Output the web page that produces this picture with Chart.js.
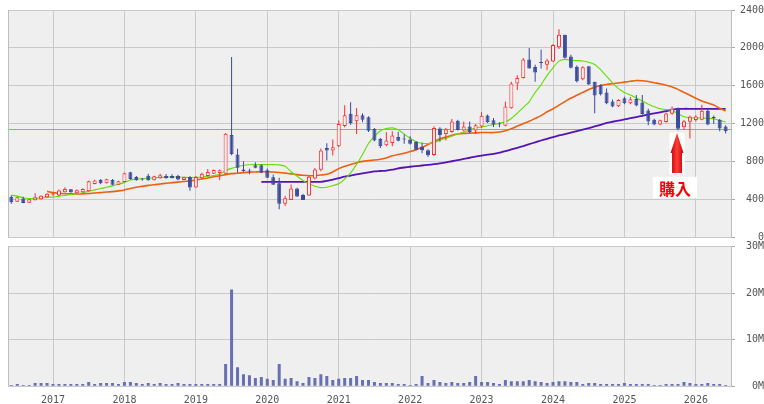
<!DOCTYPE html>
<html><head><meta charset="utf-8">
<script src="https://cdn.jsdelivr.net/npm/chart.js@4.4.1/dist/chart.umd.min.js"></script>
<style>
html,body{margin:0;padding:0;background:#fff;overflow:hidden;width:764px;height:404px;}
#c1{position:absolute;left:0;top:0;}
#c2{position:absolute;left:0;top:234px;}
</style></head><body>
<canvas id="c1" width="764" height="250"></canvas>
<canvas id="c2" width="764" height="172"></canvas>
<script>
// ---------------- DATA ----------------
const months = [
 '2016-06','2016-07','2016-08','2016-09','2016-10','2016-11','2016-12',
 '2017-01','2017-02','2017-03','2017-04','2017-05','2017-06','2017-07','2017-08','2017-09','2017-10','2017-11','2017-12',
 '2018-01','2018-02','2018-03','2018-04','2018-05','2018-06','2018-07','2018-08','2018-09','2018-10','2018-11','2018-12',
 '2019-01','2019-02','2019-03','2019-04','2019-05','2019-06','2019-07','2019-08','2019-09','2019-10','2019-11','2019-12',
 '2020-01','2020-02','2020-03','2020-04','2020-05','2020-06','2020-07','2020-08','2020-09','2020-10','2020-11','2020-12',
 '2021-01','2021-02','2021-03','2021-04','2021-05','2021-06','2021-07','2021-08','2021-09','2021-10','2021-11','2021-12',
 '2022-01','2022-02','2022-03','2022-04','2022-05','2022-06','2022-07','2022-08','2022-09','2022-10','2022-11','2022-12',
 '2023-01','2023-02','2023-03','2023-04','2023-05','2023-06','2023-07','2023-08','2023-09','2023-10','2023-11','2023-12',
 '2024-01','2024-02','2024-03','2024-04','2024-05','2024-06','2024-07','2024-08','2024-09','2024-10','2024-11','2024-12',
 '2025-01','2025-02','2025-03','2025-04','2025-05','2025-06','2025-07','2025-08','2025-09','2025-10','2025-11','2025-12',
 '2026-01','2026-02','2026-03','2026-04','2026-05','2026-06'
];
const open = [
 428,376,410,365,390,403,424,452,442,476,508,466,476,487,563,605,570,605,556,584,
 688,637,620,651,603,624,648,648,648,606,637,526,624,648,672,680,672,1080,873,717,
 703,762,762,709,635,572,354,393,516,446,442,621,712,944,916,961,1175,1305,1225,1288,
 1267,1144,1039,972,996,1058,1040,1033,1009,957,918,870,1148,1092,1113,1231,1127,1169,1127,1169,
 1287,1235,1200,1179,1363,1624,1683,1878,1798,1846,1823,1857,2007,2139,1909,1798,1670,1805,1642,1607,
 1530,1433,1384,1468,1416,1461,1423,1339,1242,1190,1217,1305,1357,1162,1220,1238,1242,1336,1266,1242,
 1169
];
const high = [
 442,428,428,405,466,445,466,476,504,529,511,504,518,598,608,615,619,615,598,682,
 692,648,625,672,651,672,668,665,660,640,648,648,682,720,717,717,1100,1905,935,803,
 724,793,770,726,663,628,439,558,523,460,656,733,937,993,1032,1232,1393,1425,1365,1309,
 1277,1154,1049,1109,1119,1115,1085,1068,1016,998,929,1172,1162,1155,1249,1242,1224,1224,1197,1322,
 1297,1259,1214,1433,1642,1711,1892,2000,1822,1982,1885,2042,2198,2139,1927,1816,1805,1805,1642,1617,
 1572,1454,1457,1485,1482,1503,1503,1357,1252,1242,1318,1381,1370,1238,1285,1290,1400,1357,1285,1249,
 1183
];
const low = [
 355,372,360,363,388,400,420,435,435,474,470,463,474,484,560,560,567,550,553,580,
 608,596,596,596,600,617,617,620,603,603,492,522,617,645,668,603,668,866,682,693,
 665,730,676,628,554,295,330,393,425,393,435,611,698,811,863,951,1161,1189,1091,1214,
 1112,1014,944,961,961,1014,988,981,918,887,849,859,1009,1023,1103,1127,1117,1099,1092,1155,
 1207,1165,1162,1172,1357,1555,1676,1781,1642,1781,1763,1850,1989,1885,1781,1635,1659,1607,1311,1496,
 1405,1374,1377,1405,1405,1384,1294,1183,1183,1183,1210,1294,1130,1137,1043,1224,1235,1183,1197,1120,
 1095
];
const close = [
 369,424,362,403,424,438,459,458,494,511,476,497,511,591,601,570,612,556,591,675,
 615,603,610,603,644,655,624,627,610,634,526,637,672,689,710,708,1094,880,734,700,
 696,734,682,628,554,354,411,516,432,393,639,716,916,916,951,1197,1288,1207,1288,1242,
 1126,1021,961,1021,1074,1020,1033,988,925,918,866,1155,1078,1141,1224,1134,1169,1113,1183,1283,
 1217,1190,1190,1381,1624,1683,1878,1781,1739,1840,1868,2031,2139,1896,1791,1649,1795,1614,1496,1510,
 1416,1381,1450,1416,1457,1391,1301,1224,1190,1235,1308,1360,1145,1225,1272,1276,1336,1190,1259,1148,
 1120
];
// volume, millions of shares
const volumeM = [
 0.28,0.5,0.28,0.28,0.7,0.7,0.7,0.5,0.5,0.5,0.5,0.5,0.5,0.9,0.5,0.7,0.7,0.7,0.5,0.9,
 0.9,0.7,0.5,0.7,0.5,0.7,0.5,0.5,0.7,0.5,0.5,0.5,0.5,0.5,0.5,0.5,4.8,20.8,4.1,2.6,
 2.4,1.8,2.0,1.6,1.35,4.8,1.6,1.8,1.1,0.7,2.0,1.8,2.6,2.2,1.35,1.6,1.8,1.8,2.2,1.35,
 1.35,0.9,0.7,0.7,0.7,0.5,0.5,0.3,0.5,2.2,0.7,1.35,0.9,0.7,0.9,0.7,0.7,0.9,2.2,0.9,
 0.9,0.7,0.5,1.35,1.1,1.1,1.1,1.35,1.1,0.9,0.7,0.9,1.1,1.1,0.9,0.9,0.5,0.7,0.7,0.5,
 0.5,0.5,0.5,0.7,0.5,0.5,0.5,0.5,0.3,0.3,0.5,0.5,0.5,0.9,0.7,0.5,0.5,0.7,0.5,0.5,
 0.3
];
// moving averages (green / orange / purple)
const maShort = [
 445,435,417,410,410,417,424,424,435,442,452,459,470,487,501,515,529,543,560,580,
 605,614,619,624,628,632,636,637,637,634,630,633,637,644,652,662,705,728,745,760,
 766,769,768,768,768,765,751,692,646,600,565,540,525,528,545,565,615,681,770,875,
 990,1065,1125,1148,1155,1135,1090,1045,1010,993,990,997,1025,1045,1068,1090,1110,1135,1155,1165,
 1178,1190,1205,1220,1255,1310,1370,1430,1530,1610,1710,1790,1860,1878,1870,1866,1862,1848,1825,1770,
 1700,1630,1570,1530,1503,1470,1440,1405,1380,1357,1348,1340,1305,1272,1262,1259,1259,1256,1252,1235,
 1217
];
const maMid = [
 null,null,null,null,null,null,485,472,465,460,458,457,458,462,468,472,478,482,490,500,
 515,528,538,548,555,563,570,577,583,589,596,605,616,627,640,650,662,672,677,683,
 688,690,692,692,690,685,678,670,662,655,650,652,658,665,690,725,750,768,788,802,
 810,816,825,838,860,875,888,905,925,950,980,1010,1040,1058,1078,1090,1097,1100,1103,1106,
 1106,1106,1112,1125,1146,1175,1200,1225,1255,1285,1325,1357,1395,1433,1470,1500,1530,1560,1585,1603,
 1614,1622,1630,1638,1647,1655,1653,1645,1632,1621,1605,1588,1562,1530,1500,1468,1440,1417,1398,1362,
 1335
];
const maLong = [
 null,null,null,null,null,null,null,null,null,null,null,null,null,null,null,null,null,null,null,null,
 null,null,null,null,null,null,null,null,null,null,null,null,null,null,null,null,null,null,null,null,
 null,null,585,585,585,585,585,585,585,585,585,585,585,595,610,625,640,652,665,675,
 685,695,700,705,715,728,737,745,752,758,765,772,780,790,803,815,827,840,853,863,
 872,880,893,910,928,945,963,983,1003,1022,1040,1058,1075,1090,1106,1122,1138,1153,1170,1188,
 1207,1220,1232,1245,1258,1270,1283,1296,1308,1320,1333,1346,1355,1357,1357,1357,1357,1357,1357,1357,
 1357
];
const priceTicks = [0, 400, 800, 1200, 1600, 2000, 2400];
const volumeTicksM = [0, 10, 20, 30];
const refPrice = 1140;          // horizontal reference line
const buyIndex = 112;           // month marked with the arrow
const buyLabel = '購入';
const arrowTipPrice = 1100, arrowBasePrice = 680, labelPrice = 525;

// ---------------- STYLE ----------------
const RED = '#ff2b2b', BLUE = '#3b4a9c', VOLC = '#6670b2';
const GREEN = '#5ee000', ORANGE = '#ee5f10', PURPLE = '#5512b4';
const PLOT_BG = '#efefef', GRID = '#c9c9c9', BORDER = '#bdbdbd';
const TICK_FONT = {family: '"DejaVu Sans Mono", monospace', size: 10};
const TICK_COLOR = '#555';
const X_MIN = -0.56, X_MAX = 120.9;

const idx = months.map((_, i) => i);
const yearIdx = idx.filter(i => months[i].endsWith('-01'));
const up = idx.map(i => close[i] >= open[i]);
const linePts = arr => idx.filter(i => arr[i] != null).map(i => ({x: i, y: arr[i]}));

const framePlugin = {
  id: 'frame',
  beforeDraw(chart) {
    const {ctx, chartArea: a} = chart;
    ctx.save();
    ctx.fillStyle = PLOT_BG;
    ctx.fillRect(a.left, a.top, a.right - a.left, a.bottom - a.top);
    ctx.restore();
  },
  afterDraw(chart) {
    const {ctx, chartArea: a} = chart;
    ctx.save();
    ctx.strokeStyle = BORDER; ctx.lineWidth = 1;
    ctx.beginPath();
    ctx.moveTo(Math.round(a.left) + 0.5, a.top);
    ctx.lineTo(Math.round(a.left) + 0.5, a.bottom);
    ctx.stroke();
    ctx.restore();
  }
};

const refLinePlugin = {
  id: 'refLine',
  beforeDatasetsDraw(chart) {
    const {ctx, chartArea: a, scales: {y}} = chart;
    const py = Math.round(y.getPixelForValue(refPrice)) + 0.5;
    ctx.save();
    ctx.strokeStyle = '#ff7c7c'; ctx.lineWidth = 1;
    ctx.beginPath(); ctx.moveTo(a.left, py); ctx.lineTo(a.right, py); ctx.stroke();
    ctx.restore();
  }
};

const buyPlugin = {
  id: 'buyMark',
  afterDatasetsDraw(chart) {
    const {ctx, scales: {x, y}} = chart;
    const cx = x.getPixelForValue(buyIndex) - 1;
    const tip = y.getPixelForValue(arrowTipPrice);
    const base = y.getPixelForValue(arrowBasePrice);
    ctx.save();
    ctx.fillStyle = '#ffffff';
    ctx.fillRect(cx - 7.5, tip - 0.5, 15, base - tip + 1.5);
    const g = ctx.createLinearGradient(cx - 6.5, 0, cx + 6.5, 0);
    g.addColorStop(0, '#c80000'); g.addColorStop(0.5, '#ff3c3c'); g.addColorStop(1, '#c80000');
    ctx.fillStyle = g;
    const headH = 20;
    ctx.beginPath();
    ctx.moveTo(cx, tip);
    ctx.lineTo(cx + 6.5, tip + headH);
    ctx.lineTo(cx + 5, tip + headH);
    ctx.lineTo(cx + 5, base);
    ctx.lineTo(cx - 5, base);
    ctx.lineTo(cx - 5, tip + headH);
    ctx.lineTo(cx - 6.5, tip + headH);
    ctx.closePath();
    ctx.fill();
    const ly = y.getPixelForValue(labelPrice);
    ctx.fillStyle = '#ffffff';
    ctx.fillRect(cx - 24, ly - 10.7, 44, 21.3);
    ctx.fillStyle = '#ff0000';
    ctx.font = 'bold 16px "Noto Sans CJK JP", sans-serif';
    ctx.textAlign = 'center'; ctx.textBaseline = 'middle';
    ctx.fillText(buyLabel, cx - 2, ly + 1);
    ctx.restore();
  }
};

function xScale(showLabels, height) {
  return {
    type: 'linear', min: X_MIN, max: X_MAX, offset: false,
    afterBuildTicks: s => { s.ticks = yearIdx.map(v => ({value: v})); },
    ticks: {display: showLabels, autoSkip: false, maxRotation: 0, padding: 8,
            font: TICK_FONT, color: TICK_COLOR,
            callback: v => months[v] ? months[v].slice(0, 4) : ''},
    grid: {color: GRID, drawTicks: false, lineWidth: 1, offset: false},
    border: {display: false},
    afterFit: s => { s.height = height; }
  };
}
function yScale(ticks, max, fmt) {
  return {
    type: 'linear', position: 'right', min: 0, max: max,
    afterBuildTicks: s => { s.ticks = ticks.map(v => ({value: v})); },
    ticks: {font: TICK_FONT, color: TICK_COLOR, padding: 4, crossAlign: 'far', callback: fmt},
    grid: {color: GRID, tickLength: 4, tickColor: '#a8a8a8', lineWidth: 1},
    border: {display: true, color: BORDER},
    afterFit: s => { s.width = 33; }
  };
}

const common = {
  responsive: false, animation: false, devicePixelRatio: 1, events: [],
  plugins: {legend: {display: false}, tooltip: {enabled: false}}
};

new Chart(document.getElementById('c1'), {
  type: 'bar',
  data: {
    datasets: [
      {type: 'line', data: linePts(maLong), borderColor: PURPLE, borderWidth: 1.8, pointRadius: 0, tension: 0.2, order: 5},
      {type: 'line', data: linePts(maMid), borderColor: ORANGE, borderWidth: 1.6, pointRadius: 0, tension: 0.2, order: 4},
      {type: 'line', data: linePts(maShort), borderColor: GREEN, borderWidth: 1.1, pointRadius: 0, tension: 0.2, order: 3},
      {type: 'bar', data: idx.map(i => ({x: i, y: [low[i], high[i]]})),
       backgroundColor: idx.map(i => up[i] ? RED : BLUE), borderWidth: 0, inflateAmount: 0,
       barThickness: 1, grouped: false, order: 2},
      {type: 'bar', data: idx.map(i => ({x: i, y: [open[i], close[i]]})),
       backgroundColor: idx.map(i => up[i] ? PLOT_BG : BLUE),
       borderColor: idx.map(i => up[i] ? RED : BLUE), borderWidth: 1, borderSkipped: false,
       inflateAmount: 0, barThickness: 4, minBarLength: 1, grouped: false, order: 1}
    ]
  },
  options: Object.assign({}, common, {
    layout: {padding: {left: 8, top: 7, right: 0, bottom: 0}},
    scales: {
      x: xScale(false, 12.7),
      y: yScale(priceTicks, 2400, v => String(v))
    }
  }),
  plugins: [framePlugin, refLinePlugin, buyPlugin]
});

new Chart(document.getElementById('c2'), {
  type: 'bar',
  data: {
    datasets: [
      {data: idx.map(i => ({x: i, y: volumeM[i]})), backgroundColor: VOLC, borderWidth: 0,
       inflateAmount: 0, barThickness: 3, grouped: false}
    ]
  },
  options: Object.assign({}, common, {
    layout: {padding: {left: 8, top: 12.7, right: 0, bottom: 0}},
    scales: {
      x: xScale(true, 19.7),
      y: yScale(volumeTicksM, 30, v => v + 'M')
    }
  }),
  plugins: [framePlugin]
});
</script>
</body></html>
